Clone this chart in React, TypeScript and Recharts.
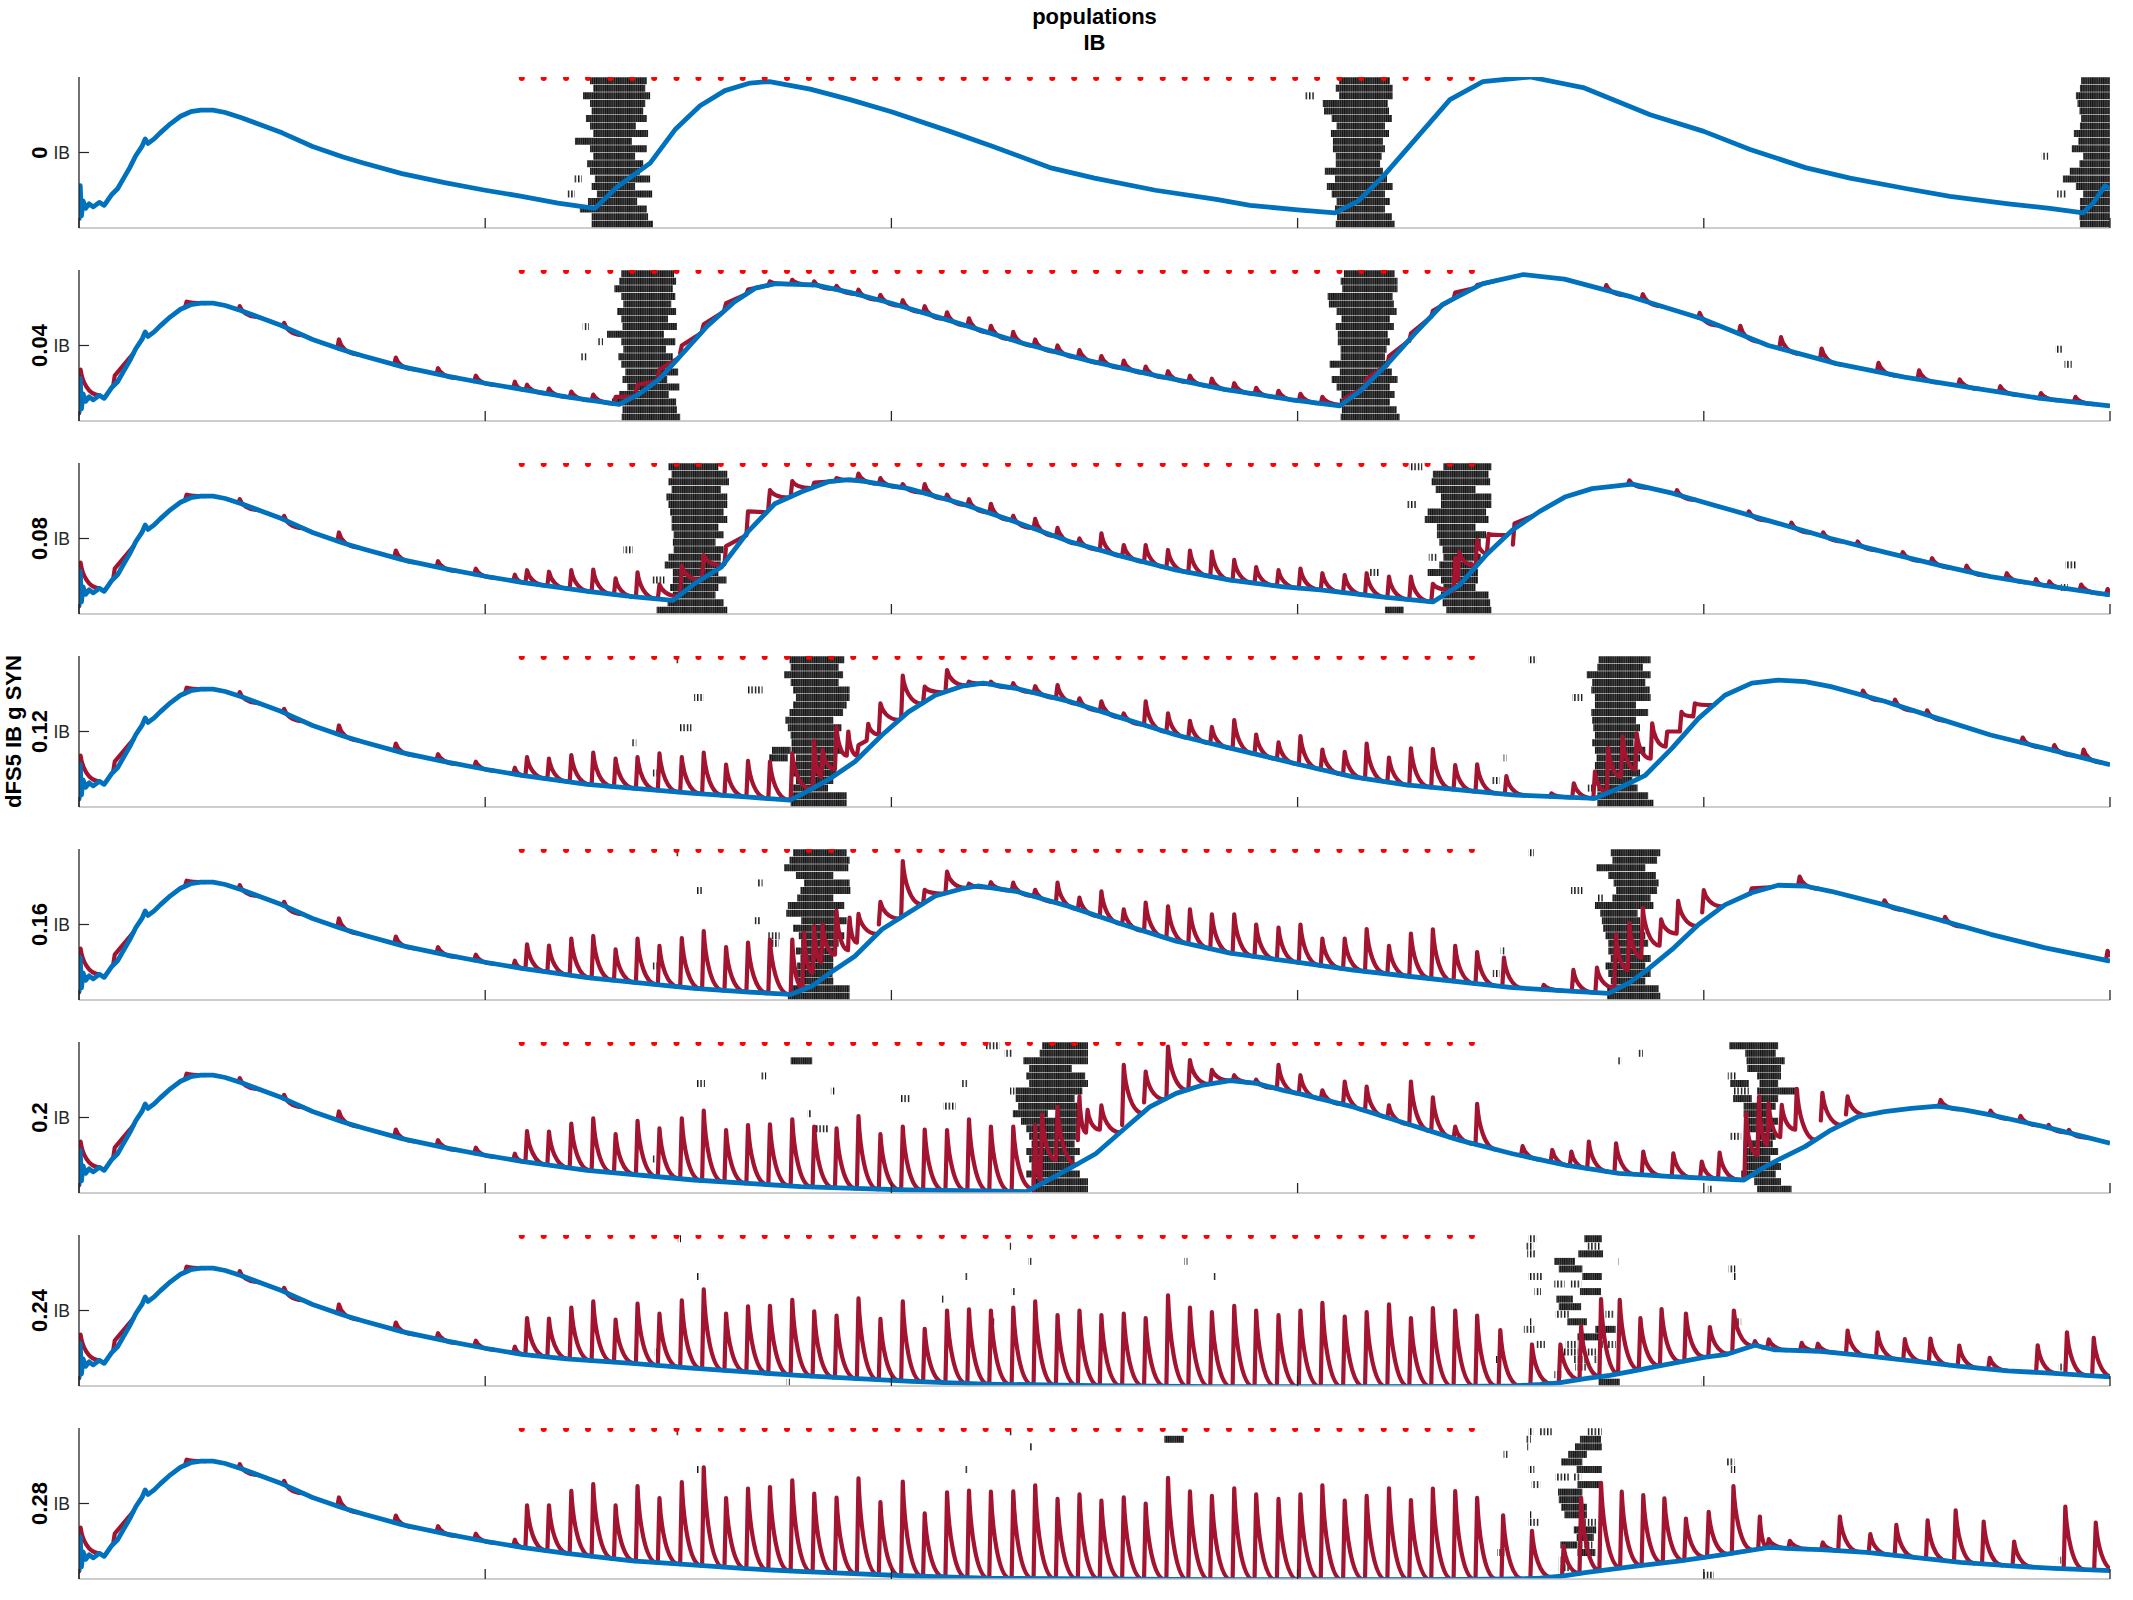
import React from 'react'
import { ComposedChart, Line, Scatter, XAxis, YAxis, ReferenceArea } from 'recharts'

// layout of the 8 stacked panels (px)
const W = 2133
const H = 1600
const PLOT_LEFT = 79
const PLOT_RIGHT = 2110
const PLOT_TOP = 77
const PLOT_H = 151
const PANEL_STEP = 193
const TOP_PAD = 4
const X_AXIS_H = 10
const Y_AXIS_W = 60
const CHART_H = TOP_PAD + PLOT_H + X_AXIS_H

const FONT = '"Liberation Sans", Arial, Helvetica, sans-serif'
const BLUE = '#0072BD'
const RED = '#A2142F'

// ---------------- data ----------------
const panelLabels = ['0', '0.04', '0.08', '0.12', '0.16', '0.2', '0.24', '0.28']
const xTicks = [0, 1000, 2000, 3000, 4000, 5000]
const yTicks = [50]

// stimulus pulses (red dots)
const pulseTimes = [
  1090, 1144, 1199, 1253, 1308, 1362, 1416, 1471, 1525, 1580, 1634, 1688, 1743, 1797, 1852,
  1906, 1960, 2015, 2069, 2124, 2178, 2232, 2287, 2341, 2396, 2450, 2504, 2559, 2613, 2668,
  2722, 2776, 2831, 2885, 2940, 2994, 3048, 3103, 3157, 3212, 3266, 3320, 3375, 3429,
]

// IB trace, shared start (t in ms, value 0-100 of panel height)
const blueOnset = [
  [0, 5], [3, 28], [6, 8], [10, 18], [16, 13], [25, 16], [35, 14], [50, 17], [62, 15], [80, 22],
  [95, 26], [110, 33], [125, 40], [140, 48], [155, 54], [163, 59], [170, 56], [185, 59], [200, 63],
  [225, 69], [250, 74], [275, 77], [300, 78], [330, 78], [360, 76.5], [400, 73], [450, 68],
  [500, 63], [575, 54], [650, 47], [700, 43], [795, 36], [900, 30], [1000, 25], [1090, 21],
]

const blue1 = [
  [1179, 16.5], [1270, 13], [1324, 27], [1406, 43], [1467, 65], [1529, 81], [1590, 91], [1652, 96],
  [1700, 97], [1800, 92], [1898, 85], [2000, 77], [2144, 64], [2250, 54], [2390, 40], [2500, 33],
  [2650, 25], [2800, 19], [2883, 15], [3000, 12], [3092, 10], [3150, 18], [3210, 34], [3294, 60],
  [3375, 85], [3456, 97], [3572, 100], [3703, 93], [3868, 75], [4000, 64], [4114, 52], [4250, 40],
  [4360, 33], [4500, 26], [4606, 21], [4750, 16], [4852, 13], [4934, 10], [4960, 17], [4988, 28],
  [5000, 26],
]
const blue2 = [
  [1200, 16], [1330, 11], [1380, 18], [1430, 28], [1480, 43], [1547, 63], [1614, 79], [1665, 88],
  [1715, 91], [1815, 90], [1900, 85], [2000, 78], [2150, 66], [2317, 52], [2485, 40], [2652, 30],
  [2820, 21], [2987, 14], [3104, 10], [3155, 20], [3222, 38], [3289, 58], [3356, 77], [3456, 91],
  [3556, 97], [3657, 94], [3824, 82], [3992, 68], [4159, 50], [4327, 38], [4494, 29], [4661, 22],
  [4829, 15], [5000, 10],
]
const blue3 = [
  [1253, 15], [1362, 11.5], [1462, 9], [1515, 20], [1581, 31], [1647, 54.5], [1713, 73], [1779, 81],
  [1845, 87.6], [1897, 89], [1937, 87.6], [2042, 83], [2174, 73], [2306, 61], [2438, 48], [2570, 38],
  [2702, 29], [2834, 22.5], [2966, 18], [3056, 16], [3200, 11.5], [3333, 8], [3398, 19], [3464, 39],
  [3529, 55.6], [3595, 67.8], [3660, 77.7], [3725, 83], [3824, 86], [3922, 80], [4052, 70],
  [4183, 60], [4313, 50], [4445, 41], [4576, 32.5], [4706, 24.7], [4838, 19], [5000, 12.6],
]
const blue4 = [
  [1251, 15], [1514, 9], [1650, 6.5], [1750, 4.6], [1777, 8], [1844, 17.9], [1910, 30], [1977, 47.7],
  [2042, 63], [2108, 74], [2174, 80], [2226, 82], [2306, 78.6], [2437, 70], [2570, 58.7],
  [2701, 47.7], [2834, 39], [3006, 28], [3137, 20], [3267, 14.6], [3529, 8], [3732, 5.7],
  [3791, 12.4], [3856, 21], [3922, 39], [3987, 58.7], [4052, 74], [4118, 82], [4183, 84],
  [4249, 83], [4313, 79.7], [4445, 70], [4576, 58.7], [4706, 47.7], [4838, 39], [5000, 28],
]
const blue5 = [
  [1251, 14.8], [1514, 7.7], [1650, 5.2], [1752, 3.7], [1805, 9.3], [1844, 17], [1910, 29],
  [1977, 46.8], [2042, 57.8], [2108, 68.9], [2174, 73.7], [2213, 75.5], [2306, 72], [2437, 62],
  [2570, 50], [2701, 39], [2834, 31], [3006, 24.7], [3137, 19.8], [3267, 15.9], [3529, 8.2],
  [3765, 4.4], [3817, 11.5], [3856, 19], [3922, 33.5], [3987, 50], [4052, 63], [4118, 71],
  [4183, 76], [4249, 75.5], [4313, 72], [4445, 63], [4576, 53.4], [4706, 43.5], [4838, 34.7],
  [5000, 25.8],
]
const blue6 = [
  [1251, 15], [1514, 8.6], [1777, 4.2], [1910, 3], [2042, 2], [2174, 1.5], [2332, 0.9], [2371, 6.4],
  [2437, 16], [2503, 26], [2570, 41.7], [2636, 57], [2701, 66], [2767, 71.5], [2834, 74.4],
  [2899, 72.6], [2965, 68], [3006, 65.6], [3137, 57], [3267, 46], [3398, 35], [3529, 26],
  [3660, 18.5], [3791, 13], [3922, 10.8], [4099, 8.6], [4144, 16.3], [4183, 21.9], [4249, 30.7],
  [4313, 41.7], [4379, 50.5], [4445, 53.9], [4511, 56], [4576, 57.6], [4641, 55], [4706, 51.7],
  [4838, 44], [5000, 33],
]
const blue7 = [
  [1200, 18], [1362, 15], [1500, 12], [1634, 9.5], [1770, 7], [1906, 5], [2050, 3], [2232, 1.3],
  [2500, 0.2], [2800, -0.5], [3100, -0.5], [3400, -0.3], [3528, 0], [3597, 1], [3643, 2], [3712, 5],
  [3769, 7], [3828, 10], [3884, 13], [3942, 16], [4000, 19], [4057, 21], [4126, 27], [4173, 24],
  [4287, 23], [4401, 20], [4518, 16.5], [4632, 13], [4748, 10], [4863, 8.4], [5000, 6],
]
const blue8 = [
  [1200, 17], [1362, 12], [1500, 9.5], [1634, 7], [1770, 5], [1906, 3.5], [2050, 2], [2232, 0.5],
  [2500, 0], [2800, -0.5], [3100, -0.5], [3414, -0.3], [3528, 0], [3597, 0.5], [3655, 2],
  [3712, 4.4], [3828, 8.4], [3942, 12], [4057, 16.5], [4160, 21], [4230, 20], [4287, 19.5],
  [4401, 17.6], [4518, 14.3], [4632, 11], [4748, 8.8], [4863, 7], [5000, 5.5],
]

// dFS5 trace: small bumps before the pulses (peak time, peak value)
const preBumps = [[4, 34], [88, 30], [265, 79], [396, 76], [505, 65], [640, 54], [780, 42], [884, 35], [977, 30], [1073, 26]]

// dFS5 peak value for each pulse; [peak, trough] where the trace stays above IB
const peaks2 = [
  24, 21.5, 19.5, 17.5, 16, [24, 20], [34, 30], [50, 45], [64, 60], [78, 74], 87, 92.5, 93.5, 92.5, 89.5, 87,
  83.5, 80, 76, 72, 68, 63, 59, 54, 50, 47, 43, 40, 36, 33, 30, 28, 25, 22, 20, 18, 16, 15,
  [28, 22], [43, 37], [58, 53], [73, 69], [85, 81], 90,
]
const peaks3 = [
  29, 28, 29, 29.4, 23.6, 27.6, 19.6, [32, 14], [39, 24], [45, 33], [68, 52], [82, 70], 88, 87, 90,
  93, 90, 86, 86, 79, 76, 73, 65, 63, 57, 50, 53.4, 45.7, 45.7, 42.4, 42, 41.3, 35.8, 31, 29, 30,
  27, 25.8, 27, 24.7, 24.7, 20, [37, 15], [49, 32],
]
const peaks4 = [
  33, 32, 34.4, 36, 32, 33, 35.5, 33, 36, 28, 30.5, 30, 35.5, [43.7, 12], [53, 25], [41, 34],
  [68.6, 48], 87, 79.7, 90.7, 83, 83, 82, 80, 80.8, 72, 70, 62, 70, 62, 57, 53, 57.6, 48, 42.8, 47,
  38, 36.6, 42, 32.7, 38.9, 38.4, 27.8, 28.3,
]
const peaks5 = [
  36.9, 36, 40.6, 42.4, 33.5, 40.6, 35.8, 41, 45.7, 35, 38, 40, [40, 4], [49, 18], [59, 30],
  [57, 38], [65, 50], 92, 73, 85, 77, 78, 77.7, 73, 77.7, 67.8, 72, 60, 64.5, 62, 60, 56.7, 56.7, 50,
  48, 50, 40.6, 40.6, 47, 35.8, 44, 46.8, 35.8, 31.8,
]
const peaks6 = [
  41, 40.6, 46, 49.4, 39, 47.7, 42.8, 49.4, 54.5, 41.7, 45, 45.5, 48.8, 44, 42.8, 51, 39, 44, 42,
  41.7, 48.8, 44, 44, [45, 2], [57, 22], [64, 35], [58, 42], [84.8, 45], [80.4, 60], 97, 88, 81.5,
  78, 75, 84.8, 78, 68, 73.7, 70.4, 58, 73.7, 63.4, 44, 59,
]
const peaks7 = [
  45, 44.6, 52, 56, 44, 54.5, 48, 56.7, 64, 48, 52.7, 53, 57, 49.5, 46.6, 58, 44.4, 56, 37.8, 50,
  50.8, 50, 52, 56, 47, 50, 47, 48, 45, 60, 52, 49, 53, 50, 47, 50, 55, 46, 49, 54, 45, 51.6, 50,
  46.6,
]
const peaks8 = [
  48.8, 48.8, 58.3, 62.9, 48.8, 61.6, 53.6, 64.2, 74, 53.6, 59.8, 60.9, 65.3, 56.5, 53.9, 66.7, 51,
  64.5, 43.5, 57.4, 58.5, 57.8, 58, 62, 53, 56, 52, 54, 50, 67, 58, 55, 60, 56, 53, 56, 62, 52, 55,
  60, 52.3, 59.8, 58.2, 53.8,
]

// dFS5 spikes not locked to a pulse: [peak time, peak, trough?]
const extra2 = [
  [3760, 90], [3850, 84], [3990, 71.5], [4090, 63], [4190, 55.5], [4290, 48], [4430, 38.5],
  [4530, 33.5], [4630, 27.5], [4730, 23], [4830, 18.5], [4915, 16],
]
const extra3 = [
  [3398, 41, 22], [3470, 53, 40], [3534, 60, 46], [3817, 88.5], [3934, 82], [4111, 68], [4216, 60.5],
  [4294, 54], [4379, 48], [4490, 41], [4562, 37], [4647, 32], [4746, 27], [4818, 23], [4851, 21.5],
  [4929, 19.5], [4994, 16.5],
]
const extra4 = [
  [1831, 37.7, 20], [1894, 50, 34], [1943, 55, 44], [3514, 20.5], [3625, 9], [3680, 15.7],
  [3732, 23.4], [3765, 39, 10], [3800, 46.6, 20], [3835, 48.8, 25], [3873, 55.4, 32],
  [3910, 50, 40], [3945, 63, 50], [3978, 68.7, 60], [4392, 77], [4471, 71], [4550, 64], [4785, 46],
  [4863, 41], [4935, 38],
]
const extra5 = [
  [1785, 44.6, 8], [1831, 50, 25], [1897, 54.5, 33], [3508, 28], [3606, 10], [3679, 19.9],
  [3737, 21.4], [3784, 43.5, 8], [3817, 51, 20], [3850, 61, 28], [3895, 53.4, 36], [3937, 65.6, 44],
  [4000, 72.8, 58], [4118, 74], [4236, 81.7], [4445, 66], [4594, 55], [4994, 32.5],
]
const extra6 = [
  [2371, 52, 8], [2483, 55, 40], [3554, 31], [3627, 28.5], [3674, 27.4], [3717, 34], [3784, 32.9],
  [3851, 27.4], [3925, 26.3], [3995, 20.8], [4039, 26.7], [4104, 52.8, 9], [4136, 63.8, 25],
  [4160, 59.4, 32], [4192, 58.3, 37], [4229, 69, 42], [4292, 66.4, 48], [4354, 64, 52],
  [4583, 61.6], [4706, 54.5], [4780, 51], [4849, 45], [4899, 41.7],
]
const extra7 = [
  [3499, 37], [3577, 27.5], [3647, 27.5], [3698, 39.6], [3747, 57.6], [3793, 57], [3844, 45],
  [3896, 51], [3956, 48], [4015, 39], [4074, 50], [4126, 29.7], [4160, 30.8], [4241, 28.6],
  [4281, 28], [4354, 36.7], [4428, 35.6], [4495, 31], [4558, 31.4], [4629, 26.8], [4704, 18.7],
  [4822, 27], [4894, 35.6], [4960, 31.9],
]
const extra8 = [
  [3506, 42.2], [3577, 31.9], [3655, 22], [3698, 53.8], [3747, 63.7], [3798, 57.8], [3851, 55.6],
  [3903, 53.4], [3956, 40], [4012, 44.4], [4073, 61.5], [4138, 41.3], [4160, 26.4], [4212, 25.3],
  [4293, 24.2], [4335, 41.3], [4410, 29.7], [4474, 35.8], [4551, 38.9], [4620, 45.5], [4689, 38],
  [4764, 24.8], [4890, 47.9], [4965, 37.4],
]

// spike raster: [row 1-20, t start, t end]
const raster1 = [
  [1, 1258, 1398], [2, 1266, 1394], [3, 1241, 1406], [4, 1258, 1394], [5, 1262, 1389], [6, 1248, 1398],
  [7, 1258, 1371], [8, 1266, 1401], [9, 1221, 1361], [10, 1258, 1398], [11, 1266, 1369], [12, 1251, 1389],
  [13, 1258, 1381], [14, 1219, 1238], [14, 1270, 1406], [15, 1262, 1369], [16, 1201, 1221], [16, 1275, 1411],
  [17, 1253, 1374], [18, 1233, 1398], [19, 1262, 1401], [20, 1262, 1413],
  [1, 3102, 3227], [2, 3094, 3234], [3, 3018, 3043], [3, 3102, 3234], [4, 3062, 3222], [5, 3065, 3225],
  [6, 3084, 3232], [7, 3096, 3215], [8, 3082, 3225], [9, 3087, 3210], [10, 3087, 3215], [11, 3094, 3207],
  [12, 3094, 3203], [13, 3067, 3210], [14, 3092, 3220], [15, 3072, 3234], [16, 3084, 3215], [17, 3096, 3227],
  [18, 3092, 3215], [19, 3097, 3232], [20, 3094, 3239],
  [1, 4929, 5000], [2, 4926, 5000], [3, 4916, 5000], [4, 4920, 5000], [5, 4925, 5000], [6, 4929, 5000],
  [7, 4926, 5000], [8, 4911, 5000], [9, 4922, 5000], [10, 4906, 5000], [11, 4832, 4848], [11, 4934, 5000],
  [12, 4925, 5000], [13, 4901, 5000], [14, 4884, 5000], [15, 4916, 5000], [16, 4870, 4894], [16, 4934, 5000],
  [17, 4926, 5000], [18, 4926, 5000], [19, 4925, 5000], [20, 4926, 5000],
]
const raster2 = [
  [1, 1335, 1465], [2, 1330, 1470], [3, 1318, 1462], [4, 1335, 1468], [5, 1340, 1458], [6, 1325, 1470],
  [7, 1335, 1450], [8, 1240, 1255], [8, 1338, 1472], [9, 1300, 1440], [10, 1275, 1290], [10, 1335, 1468],
  [11, 1340, 1445], [12, 1235, 1250], [12, 1328, 1462], [13, 1335, 1455], [14, 1345, 1475], [15, 1338, 1448],
  [16, 1350, 1478], [17, 1330, 1452], [18, 1312, 1470], [19, 1338, 1472], [20, 1336, 1480],
  [1, 3114, 3239], [2, 3106, 3246], [3, 3110, 3246], [4, 3074, 3234], [5, 3077, 3237], [6, 3096, 3244],
  [7, 3108, 3227], [8, 3094, 3237], [9, 3099, 3222], [10, 3099, 3227], [11, 3106, 3219], [12, 3106, 3215],
  [13, 3079, 3222], [14, 3104, 3232], [15, 3084, 3246], [16, 3096, 3227], [17, 3108, 3239], [18, 3104, 3227],
  [19, 3109, 3244], [20, 3106, 3251], [11, 4866, 4882], [13, 4888, 4906],
]
const raster3 = [
  [1, 1451, 1574], [2, 1459, 1596], [3, 1451, 1600], [4, 1459, 1580], [5, 1446, 1596], [6, 1451, 1596],
  [7, 1455, 1587], [8, 1459, 1596], [9, 1459, 1574], [10, 1464, 1587], [11, 1462, 1567], [12, 1340, 1363],
  [12, 1464, 1587], [13, 1451, 1580], [14, 1442, 1580], [15, 1462, 1574], [16, 1409, 1442], [16, 1462, 1594],
  [17, 1455, 1574], [18, 1462, 1567], [19, 1449, 1587], [20, 1422, 1596],
  [1, 3274, 3307], [1, 3359, 3477], [2, 3333, 3470], [3, 3330, 3474], [4, 3340, 3438], [5, 3353, 3477],
  [6, 3268, 3294], [6, 3353, 3477], [7, 3320, 3464], [8, 3313, 3470], [9, 3343, 3438], [10, 3343, 3464],
  [11, 3349, 3451], [12, 3357, 3438], [13, 3323, 3343], [13, 3359, 3451], [14, 3349, 3431], [15, 3176, 3202],
  [15, 3320, 3444], [16, 3353, 3444], [17, 3359, 3438], [18, 3353, 3470], [19, 3357, 3474], [20, 3215, 3261],
  [20, 3366, 3477], [14, 4890, 4916], [17, 4879, 4896],
]
const raster4 = [
  [1, 1468, 1477], [1, 1749, 1884], [2, 1752, 1870], [3, 1736, 1881], [4, 1752, 1870], [5, 1644, 1683],
  [5, 1758, 1897], [6, 1514, 1538], [6, 1765, 1897], [7, 1758, 1890], [8, 1749, 1881], [9, 1739, 1857],
  [10, 1477, 1508], [10, 1745, 1877], [11, 1752, 1870], [12, 1359, 1372], [12, 1754, 1873], [13, 1706, 1752],
  [13, 1754, 1877], [14, 1699, 1745], [14, 1765, 1864], [15, 1762, 1857], [16, 1412, 1422], [16, 1758, 1864],
  [17, 1765, 1857], [18, 1758, 1844], [19, 1754, 1890], [20, 1752, 1890],
  [1, 3568, 3588], [1, 3741, 3869], [2, 3738, 3850], [3, 3712, 3869], [4, 3725, 3856], [5, 3723, 3867],
  [6, 3676, 3702], [6, 3732, 3869], [7, 3732, 3833], [8, 3723, 3863], [9, 3725, 3833], [10, 3728, 3843],
  [11, 3732, 3837], [12, 3725, 3827], [13, 3732, 3856], [14, 3507, 3514], [14, 3736, 3843], [15, 3732, 3837],
  [16, 3732, 3843], [17, 3477, 3497], [17, 3738, 3824], [18, 3712, 3725], [18, 3738, 3837], [19, 3738, 3863],
  [20, 3738, 3876],
]
const raster5 = [
  [1, 1468, 1477], [1, 1758, 1890], [2, 1749, 1897], [3, 1736, 1894], [4, 1765, 1857], [5, 1670, 1683],
  [5, 1785, 1897], [6, 1521, 1534], [6, 1776, 1899], [7, 1768, 1857], [8, 1745, 1884], [9, 1741, 1864],
  [10, 1662, 1679], [10, 1778, 1890], [11, 1758, 1868], [12, 1696, 1725], [12, 1772, 1884], [13, 1699, 1723],
  [13, 1778, 1870], [14, 1765, 1864], [15, 1776, 1857], [16, 1412, 1422], [16, 1768, 1857], [17, 1765, 1855],
  [18, 1772, 1857], [19, 1752, 1897], [20, 1745, 1897],
  [1, 3568, 3582], [1, 3771, 3893], [2, 3775, 3885], [3, 3736, 3856], [4, 3765, 3882], [5, 3778, 3889],
  [6, 3673, 3702], [6, 3784, 3885], [7, 3738, 3752], [7, 3775, 3869], [8, 3732, 3876], [9, 3745, 3837],
  [10, 3749, 3843], [11, 3752, 3843], [12, 3758, 3856], [13, 3765, 3863], [14, 3500, 3510], [14, 3765, 3843],
  [15, 3771, 3869], [16, 3758, 3856], [17, 3480, 3497], [17, 3765, 3869], [18, 3771, 3856], [19, 3762, 3889],
  [20, 3762, 3893],
]
const raster6 = [
  [1, 2233, 2266], [1, 2371, 2484], [2, 2279, 2299], [2, 2365, 2484], [3, 1752, 1805], [3, 2325, 2484],
  [4, 2339, 2444], [5, 1679, 1692], [5, 2332, 2477], [6, 1521, 1541], [6, 2174, 2187], [6, 2339, 2484],
  [7, 1851, 1860], [7, 2292, 2303], [7, 2306, 2470], [8, 2022, 2048], [8, 2306, 2451], [9, 2128, 2158],
  [9, 2312, 2457], [10, 1794, 1802], [10, 2299, 2385], [10, 2411, 2464], [11, 2319, 2457], [12, 1811, 1844],
  [12, 2332, 2464], [13, 2339, 2457], [14, 2345, 2451], [15, 2332, 2464], [16, 1412, 1420], [16, 2339, 2451],
  [17, 2345, 2444], [18, 2332, 2464], [19, 2345, 2484], [20, 2345, 2484],
  [1, 4063, 4183], [2, 3837, 3850], [2, 4102, 4177], [3, 3788, 3797], [3, 4105, 4199], [4, 4107, 4190],
  [5, 4059, 4079], [5, 4131, 4190], [6, 4065, 4111], [6, 4137, 4183], [7, 4072, 4111], [7, 4131, 4229],
  [8, 4072, 4118], [8, 4137, 4183], [9, 4098, 4177], [10, 4098, 4157], [11, 4105, 4183], [12, 4111, 4170],
  [13, 4063, 4092], [13, 4131, 4177], [14, 4098, 4170], [15, 4098, 4183], [16, 4105, 4164], [17, 4102, 4190],
  [18, 4092, 4177], [19, 4124, 4190], [20, 4010, 4020], [20, 4131, 4216],
]
const raster7 = [
  [1, 1474, 1482], [6, 1521, 1529], [16, 1417, 1425], [20, 1742, 1750], [9, 2124, 2132], [6, 2180, 2188],
  [12, 2246, 2254], [2, 2287, 2295], [8, 2296, 2304], [4, 2337, 2345], [4, 2721, 2729], [6, 2792, 2800],
  [1, 3568, 3588], [1, 3706, 3749], [2, 3560, 3580], [2, 3710, 3747], [3, 3565, 3586], [3, 3691, 3752],
  [4, 3632, 3683], [4, 3787, 3790], [5, 3643, 3701], [5, 4061, 4078], [6, 3568, 3603], [6, 3701, 3749],
  [6, 4071, 4080], [7, 3632, 3657], [7, 3672, 3698], [8, 3583, 3599], [8, 3695, 3747], [9, 3637, 3678],
  [10, 3643, 3698], [11, 3635, 3668], [11, 3758, 3779], [12, 3572, 3576], [12, 3664, 3712], [12, 4071, 4092],
  [13, 3557, 3583], [13, 3733, 3783], [14, 3689, 3747], [15, 3586, 3609], [15, 3660, 3689], [15, 3749, 3783],
  [16, 3655, 3691], [16, 3706, 3735], [17, 3488, 3505], [17, 3678, 3712], [17, 3729, 3737], [18, 3683, 3712],
  [18, 4874, 4886], [19, 3632, 3649], [20, 3741, 3793], [20, 3995, 3999],
]
const raster8 = [
  [1, 1469, 1477], [6, 1521, 1529], [15, 2020, 2028], [6, 2180, 2188], [1, 2290, 2298], [3, 2340, 2348],
  [2, 2672, 2720],
  [1, 3568, 3580], [1, 3595, 3626], [1, 3712, 3749], [2, 3560, 3574], [2, 3695, 3747], [3, 3565, 3572],
  [3, 3683, 3749], [4, 3507, 3517], [4, 3666, 3712], [5, 3649, 3701], [5, 4057, 4075], [6, 3568, 3583],
  [6, 3687, 3749], [6, 4066, 4078], [7, 3635, 3668], [7, 3680, 3698], [8, 3576, 3597], [8, 3689, 3747],
  [9, 3641, 3701], [10, 3643, 3698], [11, 3649, 3712], [12, 3572, 3576], [12, 3657, 3712], [13, 3568, 3595],
  [13, 3706, 3735], [14, 3680, 3735], [15, 3687, 3729], [16, 3647, 3689], [16, 3701, 3726], [17, 3491, 3511],
  [17, 3689, 3733], [18, 3643, 3666], [18, 4874, 4880], [19, 3643, 3672], [20, 3997, 4025], [20, 3643, 3655],
]

// ---------------- building the series ----------------
const RISE = 4
const DECAY = 46
const PEAK_DELAY = 13
const PULSE_LEVEL = 99.3

type Spike = { tp: number; peak: number; trough?: number }
type Pt = { t: number; v: number | null }

function lerp(curve: number[][], t: number) {
  if (t <= curve[0][0]) return curve[0][1]
  for (let i = 1; i < curve.length; i++) {
    const [t1, v1] = curve[i]
    const [t0, v0] = curve[i - 1]
    if (t <= t1) return v0 + ((v1 - v0) * (t - t0)) / (t1 - t0)
  }
  return curve[curve.length - 1][1]
}

function pulseSpikes(peaks: any[]): Spike[] {
  return peaks.map((p, k) =>
    Array.isArray(p)
      ? { tp: pulseTimes[k] + PEAK_DELAY, peak: p[0], trough: p[1] }
      : { tp: pulseTimes[k] + PEAK_DELAY, peak: p },
  )
}
function listSpikes(list: number[][]): Spike[] {
  return list.map((e) => ({ tp: e[0], peak: e[1], trough: e[2] }))
}

// chains of spikes (onset -> peak -> next onset ...), separated by gaps;
// between chains the dFS5 trace lies under the IB trace
function buildRed(blue: number[][], spikes: Spike[]) {
  const s = spikes.slice().sort((a, b) => a.tp - b.tp)
  const pts: Pt[] = []
  s.forEach((sp, i) => {
    const on = sp.tp - RISE
    pts.push({ t: on, v: sp.trough ?? lerp(blue, on) })
    pts.push({ t: sp.tp, v: sp.peak })
    const next = s[i + 1]
    const end = sp.tp + DECAY
    if (!next || next.tp - RISE > end + 1) {
      pts.push({ t: end, v: lerp(blue, end) })
      pts.push({ t: end + 0.5, v: null })
    }
  })
  return pts
}

// line shape for the dFS5 trace: fast rise, exponential-looking decay
const decayCurve = (context: any) => {
  let px = 0
  let py = 0
  let n = 0
  return {
    areaStart() {},
    areaEnd() {},
    lineStart() {
      n = 0
    },
    lineEnd() {},
    point(x: number, y: number) {
      x = +x
      y = +y
      if (n === 0) context.moveTo(x, y)
      else if (y - py > 1) {
        const dx = x - px
        const dy = y - py
        context.bezierCurveTo(px + dx * 0.08, py + dy * 0.45, px + dx * 0.4, py + dy * 0.98, x, y)
      } else context.lineTo(x, y)
      px = x
      py = y
      n++
    },
  }
}

const bluePanels = [blue1, blue2, blue3, blue4, blue5, blue6, blue7, blue8].map((b) => [...blueOnset, ...b])
const pulsePanels = [null, peaks2, peaks3, peaks4, peaks5, peaks6, peaks7, peaks8]
const extraPanels = [[], extra2, extra3, extra4, extra5, extra6, extra7, extra8]
const rasterPanels = [raster1, raster2, raster3, raster4, raster5, raster6, raster7, raster8]
const pulseDots = pulseTimes.map((t) => ({ t, v: PULSE_LEVEL }))

const XTick = (props: any) => {
  const { x, y } = props
  return <line x1={x} x2={x} y1={y} y2={y - 10} stroke="#262626" strokeWidth={1.3} />
}
const YTick = (props: any) => {
  const { y } = props
  return (
    <g>
      <line x1={PLOT_LEFT} x2={PLOT_LEFT + 10} y1={y} y2={y} stroke="#262626" strokeWidth={1.2} />
      <text x={PLOT_LEFT - 9} y={y} dy="0.36em" textAnchor="end" fontSize={17.5} fontFamily={FONT} fill="#262626">
        IB
      </text>
    </g>
  )
}

function Panel({ index }: { index: number }) {
  const blue = bluePanels[index]
  const peaks = pulsePanels[index]
  const spikes = peaks ? [...listSpikes(preBumps), ...pulseSpikes(peaks), ...listSpikes(extraPanels[index])] : []
  const bluePts = blue.map(([t, v]) => ({ t, v }))
  const redPts = spikes.length ? buildRed(blue, spikes) : null
  return (
    <div style={{ position: 'absolute', left: 0, top: PLOT_TOP + index * PANEL_STEP - TOP_PAD }}>
      <ComposedChart
        width={W}
        height={CHART_H}
        margin={{ top: TOP_PAD, right: W - PLOT_RIGHT, bottom: 0, left: PLOT_LEFT - Y_AXIS_W }}
      >
        <XAxis
          dataKey="t"
          type="number"
          domain={[0, 5000]}
          ticks={xTicks}
          interval={0}
          allowDataOverflow
          height={X_AXIS_H}
          axisLine={{ stroke: '#bdbdbd', strokeWidth: 1.5 }}
          tickLine={false}
          tickSize={0}
          tickMargin={0}
          tick={<XTick />}
        />
        <YAxis
          yAxisId="v"
          dataKey="v"
          type="number"
          domain={[0, 100]}
          ticks={yTicks}
          allowDataOverflow
          width={Y_AXIS_W}
          axisLine={false}
          tickLine={false}
          tickSize={0}
          tickMargin={9}
          tick={<YTick />}
        />
        <YAxis yAxisId="r" type="number" domain={[0, 20]} reversed hide allowDataOverflow />
        {rasterPanels[index].map(([row, t0, t1], i) => (
          <ReferenceArea
            key={`r${i}`}
            yAxisId="r"
            x1={t0}
            x2={t1}
            y1={row - 0.97}
            y2={row - 0.04}
            fill={t1 - t0 < 40 ? 'url(#rasterSparse)' : 'url(#rasterDense)'}
            fillOpacity={1}
            stroke="none"
            ifOverflow="hidden"
          />
        ))}
        {redPts && (
          <Line
            yAxisId="v"
            data={redPts}
            dataKey="v"
            type={decayCurve as any}
            stroke={RED}
            strokeWidth={4.2}
            strokeLinejoin="round"
            strokeLinecap="round"
            dot={false}
            activeDot={false}
            connectNulls={false}
            isAnimationActive={false}
          />
        )}
        <Line
          yAxisId="v"
          data={bluePts}
          dataKey="v"
          type="linear"
          stroke={BLUE}
          strokeWidth={4.8}
          strokeLinejoin="round"
          dot={false}
          activeDot={false}
          isAnimationActive={false}
        />
        <Scatter
          yAxisId="v"
          data={pulseDots}
          dataKey="v"
          isAnimationActive={false}
          shape={(p: any) => <circle cx={p.cx} cy={p.cy} r={3} fill="#ff0000" />}
        />
      </ComposedChart>
    </div>
  )
}

export default function App() {
  const midX = (PLOT_LEFT + PLOT_RIGHT) / 2
  return (
    <div style={{ position: 'absolute', left: 0, top: 0, width: W, height: H, background: '#fff', overflow: 'hidden' }}>
      <svg width={0} height={0} style={{ position: 'absolute' }}>
        <defs>
          <pattern id="rasterDense" width={2.2} height={10} patternUnits="userSpaceOnUse">
            <rect width={2.2} height={10} fill="#4a4a4a" />
            <rect width={1.1} height={10} fill="#111" />
          </pattern>
          <pattern id="rasterSparse" width={3.4} height={10} patternUnits="userSpaceOnUse">
            <rect width={1.4} height={10} fill="#111" />
          </pattern>
        </defs>
      </svg>
      {panelLabels.map((_, i) => (
        <Panel key={i} index={i} />
      ))}
      <svg width={W} height={H} style={{ position: 'absolute', left: 0, top: 0, pointerEvents: 'none' }}>
        <text x={midX} y={24} textAnchor="middle" fontFamily={FONT} fontWeight="bold" fontSize={22}>
          populations
        </text>
        <text x={midX} y={50} textAnchor="middle" fontFamily={FONT} fontWeight="bold" fontSize={22}>
          IB
        </text>
        {panelLabels.map((lab, i) => {
          const top = PLOT_TOP + i * PANEL_STEP
          return (
            <g key={lab}>
              <line x1={PLOT_LEFT} x2={PLOT_LEFT} y1={top} y2={top + PLOT_H} stroke="#262626" strokeWidth={1.3} />
              <text
                transform={`translate(46.5,${top + PLOT_H / 2}) rotate(-90)`}
                textAnchor="middle"
                fontFamily={FONT}
                fontWeight="bold"
                fontSize={22}
              >
                {lab}
              </text>
            </g>
          )
        })}
        <text
          transform={`translate(20.5,${PLOT_TOP + 3 * PANEL_STEP + PLOT_H / 2}) rotate(-90)`}
          textAnchor="middle"
          fontFamily={FONT}
          fontWeight="bold"
          fontSize={22}
        >
          dFS5 IB g SYN
        </text>
      </svg>
    </div>
  )
}
